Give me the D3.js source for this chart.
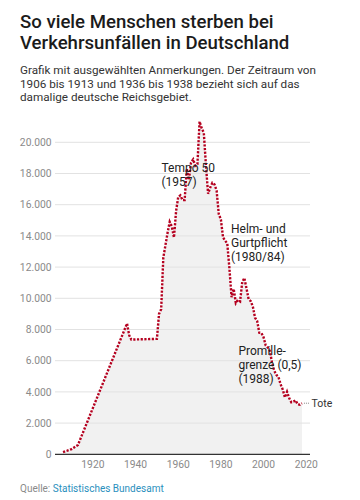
<!DOCTYPE html>
<html><head><meta charset="utf-8">
<script src="https://cdn.jsdelivr.net/npm/d3@7"></script>
<style>
html,body{margin:0;padding:0;background:#fff;}
svg{display:block;font-family:Roboto,"Noto Sans",sans-serif;}
</style></head>
<body>
<svg id="chart" width="360" height="500"></svg>
<script>
const years = [1906,1907,1908,1909,1910,1911,1912,1913,1936,1937,1938,
1950,1951,1952,1953,1954,1955,1956,1957,1958,1959,1960,1961,1962,1963,1964,1965,1966,1967,1968,1969,
1970,1971,1972,1973,1974,1975,1976,1977,1978,1979,1980,1981,1982,1983,1984,1985,1986,1987,1988,1989,
1990,1991,1992,1993,1994,1995,1996,1997,1998,1999,2000,2001,2002,2003,2004,2005,2006,2007,2008,2009,
2010,2011,2012,2013,2014,2015,2016,2017,2018];
const deaths = [140,190,230,280,330,420,510,600,8388,7636,7354,
7400,9000,9300,12600,13400,14200,14900,14600,13900,15600,16500,16600,16300,16300,18300,17600,18700,18900,18500,18600,
21332,20900,20600,18500,16700,17100,17400,17300,16900,15400,15050,13900,13700,13500,11900,10070,10600,9700,9900,9800,
11046,11300,10631,9949,9814,9454,8758,8549,7792,7772,7503,6977,6842,6613,5842,5361,5091,4949,4477,4152,
3648,4009,3600,3339,3377,3459,3206,3180,3275];
const yTicks = [0,2000,4000,6000,8000,10000,12000,14000,16000,18000,20000];
const yTickLabels = ["0","2.000","4.000","6.000","8.000","10.000","12.000","14.000","16.000","18.000","20.000"];
const xTicks = [1920,1940,1960,1980,2000,2020];
const annotations = [
  {lines:["Tempo 50","(1957)"]},
  {lines:["Helm- und","Gurtpflicht","(1980/84)"]},
  {lines:["Promille-","grenze (0,5)","(1988)"]}
];
const annoPos = [[161.5,171.5],[231,233],[238.5,355]];

const data = years.map((y,i)=>({year:y, value:deaths[i]}));
const svg = d3.select("#chart");
const x = d3.scaleLinear().domain([1902,2022]).range([54.5,310.5]);
const y = d3.scaleLinear().domain([0,20000]).range([454.3,142.3]);

// title
const title = svg.append("text").attr("x",20).attr("fill","#1b1b1b")
  .attr("font-size",18.6).attr("font-weight",500);
title.append("tspan").attr("x",20).attr("y",27.5).text("So viele Menschen sterben bei");
title.append("tspan").attr("x",20).attr("y",49).text("Verkehrsunfällen in Deutschland");

const sub = svg.append("text").attr("fill","#333").attr("font-size",11.7);
["Grafik mit ausgewählten Anmerkungen. Der Zeitraum von",
 "1906 bis 1913 und 1936 bis 1938 bezieht sich auf das",
 "damalige deutsche Reichsgebiet."].forEach((t,i)=>{
  sub.append("tspan").attr("x",20).attr("y",74+i*13.5).text(t);
});

// area
svg.append("path").datum(data)
  .attr("fill","#f1f1f1")
  .attr("d", d3.area().x(d=>x(d.year)).y0(y(0)).y1(d=>y(d.value)));

// grid
svg.append("g").selectAll("line").data(yTicks.slice(1)).join("line")
  .attr("x1",55).attr("x2",310).attr("y1",d=>y(d)).attr("y2",d=>y(d))
  .attr("stroke","#e2e2e2").attr("stroke-width",1);

svg.append("g").selectAll("text").data(yTicks).join("text")
  .attr("x",51.5).attr("y",d=>y(d)+3.6).attr("text-anchor","end")
  .attr("font-size",10.3).attr("fill","#8a8a8a").text((d,i)=>yTickLabels[i]);

svg.append("g").selectAll("text").data(xTicks).join("text")
  .attr("x",d=>x(d)).attr("y",468).attr("text-anchor","middle")
  .attr("font-size",10.3).attr("fill","#8a8a8a").text(d=>d);

// line
svg.append("path").datum(data)
  .attr("fill","none").attr("stroke","#b5001f").attr("stroke-width",2.4)
  .attr("stroke-dasharray","2.2,1.5")
  .attr("d", d3.line().x(d=>x(d.year)).y(d=>y(d.value)));

// baseline
svg.append("line").attr("x1",55).attr("x2",310).attr("y1",y(0)).attr("y2",y(0))
  .attr("stroke","#333").attr("stroke-width",1.3);

// annotations
annotations.forEach((a,i)=>{
  const t = svg.append("text").attr("font-size",12).attr("fill","#222");
  a.lines.forEach((l,j)=>t.append("tspan").attr("x",annoPos[i][0]).attr("y",annoPos[i][1]+j*14.2).text(l));
});

// end label
const last = data[data.length-1];
svg.append("line").attr("x1",x(last.year)+2).attr("x2",x(last.year)+8)
  .attr("y1",y(last.value)).attr("y2",y(last.value))
  .attr("stroke","#888").attr("stroke-width",1).attr("stroke-dasharray","1,1");
svg.append("text").attr("x",x(last.year)+9.5).attr("y",y(last.value)+4)
  .attr("font-size",10.5).attr("fill","#333").text("Tote");

// source
const src = svg.append("text").attr("x",20).attr("y",492).attr("font-size",10);
src.append("tspan").attr("fill","#8a8a8a").text("Quelle: ");
src.append("tspan").attr("fill","#2a8fbd").text("Statistisches Bundesamt");
</script>
</body></html>
